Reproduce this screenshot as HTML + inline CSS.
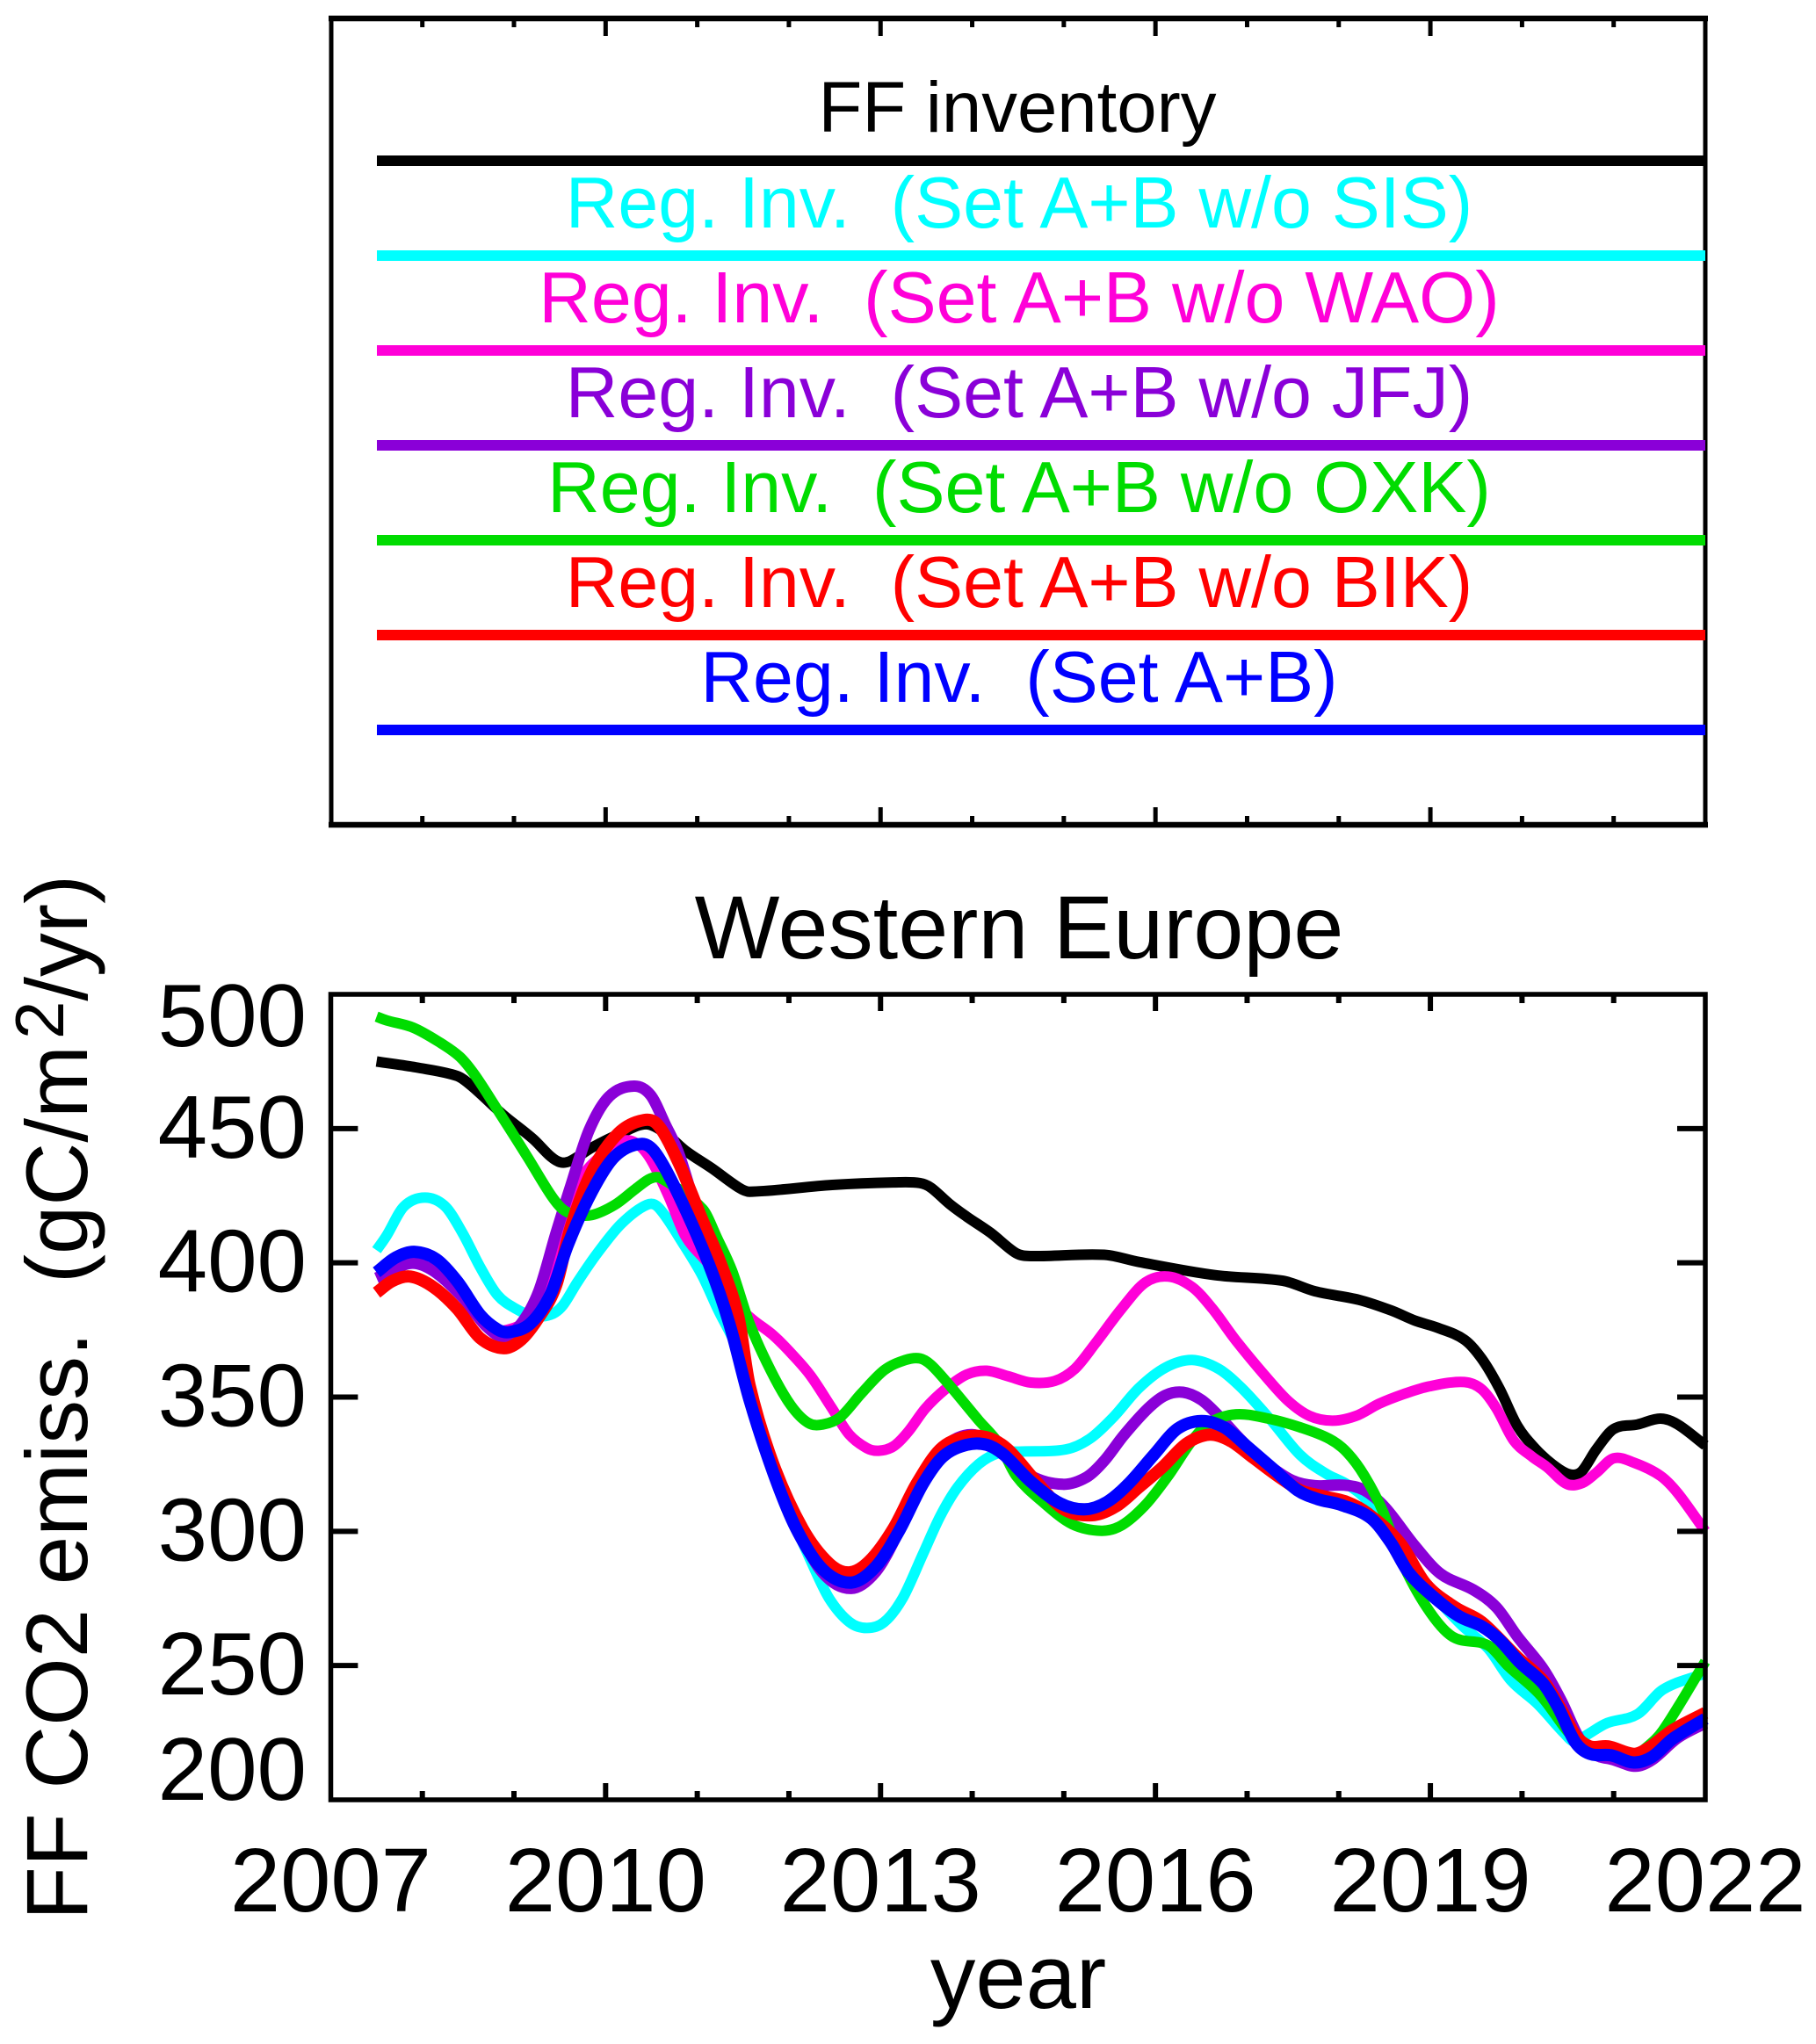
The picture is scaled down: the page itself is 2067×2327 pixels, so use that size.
<!DOCTYPE html>
<html lang="en">
<head>
<meta charset="utf-8">
<title>Western Europe FF CO2 emissions</title>
<style>
html,body{margin:0;padding:0;background:#fff;}
svg{display:block;}
text,tspan{font-family:"Liberation Sans",Arial,sans-serif;fill:#000;white-space:pre;}
</style>
</head>
<body>
<svg id="chart" xmlns="http://www.w3.org/2000/svg" width="2067" height="2327" viewBox="0 0 2067 2327">
  <g id="legend-panel">
    <rect x="377" y="21" width="1564" height="918" fill="none" stroke="#000" stroke-width="5"/>
    <line x1="374" y1="21" x2="1944" y2="21" stroke="#000" stroke-width="6.5"/>
    <line x1="374" y1="939" x2="1944" y2="939" stroke="#000" stroke-width="6.5"/>
    <g id="legend-ticks"></g>
    <g font-size="82.5" text-anchor="middle">
      <text x="1158" y="150" font-size="81.5">FF inventory</text>
      <rect x="429" y="177" width="1512" height="12" fill="#000"/>
      <text x="1160" y="259" style="fill:#00ffff">Reg. Inv.  (Set A+B w/o SIS)</text>
      <rect x="429" y="285" width="1512" height="12" fill="#00ffff"/>
      <text x="1160" y="367" style="fill:#ff00d8">Reg. Inv.  (Set A+B w/o WAO)</text>
      <rect x="429" y="393" width="1512" height="12" fill="#ff00d8"/>
      <text x="1160" y="475" style="fill:#8a00d8">Reg. Inv.  (Set A+B w/o JFJ)</text>
      <rect x="429" y="501" width="1512" height="12" fill="#8a00d8"/>
      <text x="1160" y="583" style="fill:#00dc00">Reg. Inv.  (Set A+B w/o OXK)</text>
      <rect x="429" y="609" width="1512" height="12" fill="#00dc00"/>
      <text x="1160" y="691" style="fill:#ff0000">Reg. Inv.  (Set A+B w/o BIK)</text>
      <rect x="429" y="717" width="1512" height="12" fill="#ff0000"/>
      <text x="1160" y="799" style="fill:#0000ff">Reg. Inv.  (Set A+B)</text>
      <rect x="429" y="825" width="1512" height="12" fill="#0000ff"/>
    </g>
  </g>

  <text x="1160" y="1091" font-size="102.5" text-anchor="middle">Western Europe</text>
  <g id="series"></g>
  <g id="axes"></g>
  <rect x="376.5" y="1132" width="1564.5" height="917" fill="none" stroke="#000" stroke-width="5.5"/>
  <text x="1159" y="2286" font-size="103" text-anchor="middle">year</text>
  <text transform="translate(99 2186) rotate(-90)" font-size="99.6">FF CO2 emiss.  (gC/m<tspan font-size="78" dx="7" dy="-27">2</tspan><tspan dy="27">/yr)</tspan></text>
</svg>
<script>
const xTickYears = [2007,2008,2009,2010,2011,2012,2013,2014,2015,2016,2017,2018,2019,2020,2021,2022];
const xLabelYears = [2007,2010,2013,2016,2019,2022];
const yTickValues = [500,450,400,350,300,250,200];

const inventoryYears = [2007.5,2007.93,2008.38,2008.54,2008.89,2009.21,2009.4,2009.51,2009.62,2009.85,2010.17,2010.44,2010.65,2010.87,2011.16,2011.45,2011.57,2012.47,2013.2,2013.43,2013.55,2013.75,2013.94,2014.2,2014.48,2014.64,2015.44,2015.82,2016.65,2017.39,2017.74,2018.22,2018.57,2018.83,2019.08,2019.37,2019.56,2019.75,2019.95,2020.14,2020.33,2020.52,2020.65,2020.81,2021,2021.26,2021.51,2021.7,2022];
const inventoryValues = [475,472.8,469.6,465.8,454.9,446.1,439.6,437.4,438,442.9,448.3,451.6,448.3,441.8,435.2,428.1,426.5,429,430,429.7,428,422,417.2,411.2,403.6,402.5,403,400.3,395.4,393.3,389.4,386.2,382.3,378.5,375.8,371.4,364.3,353.4,339.2,331,325,321.2,322.3,330.5,338.1,339.8,342,339.8,332];

const noSisYears = [2007.5,2007.61,2007.8,2008.03,2008.25,2008.44,2008.63,2008.82,2009.02,2009.21,2009.4,2009.53,2009.69,2009.91,2010.17,2010.45,2010.58,2010.87,2011.06,2011.22,2011.45,2011.7,2011.95,2012.24,2012.44,2012.66,2012.85,2013.04,2013.24,2013.46,2013.65,2013.84,2014.07,2014.29,2014.51,2015.02,2015.28,2015.54,2015.82,2016.11,2016.4,2016.69,2016.94,2017.26,2017.58,2017.87,2018.09,2018.32,2018.7,2019.02,2019.34,2019.63,2019.88,2020.17,2020.46,2020.58,2020.71,2020.93,2021.26,2021.54,2022];
const noSisValues = [404.7,410.1,421,424.3,421,411,398.5,388,382.9,380.2,380.7,384,392.7,403.6,414.5,421.6,420.5,405.8,394.9,383,366.5,337,312,289,275,266.2,264,266.2,275,291.3,305.5,316.4,325,329.2,329.7,330.5,334.4,342.5,353.4,361,363.8,360.5,353.4,341.4,328.4,321.3,317.5,311,292,277,265.1,256.4,244.4,235.7,224.8,221.5,224.2,228.6,231.9,241.1,247.1];

const noWaoYears = [2007.5,2007.87,2008.12,2008.44,2008.7,2008.89,2009.18,2009.46,2009.69,2009.94,2010.23,2010.45,2010.68,2010.87,2011.13,2011.35,2011.6,2011.83,2012.05,2012.24,2012.47,2012.66,2012.85,2012.98,2013.14,2013.3,2013.49,2013.71,2013.94,2014.16,2014.39,2014.64,2014.9,2015.12,2015.34,2015.63,2015.89,2016.14,2016.4,2016.62,2016.88,2017.2,2017.45,2017.68,2017.93,2018.19,2018.44,2018.7,2018.99,2019.37,2019.56,2019.72,2019.91,2020.11,2020.27,2020.49,2020.66,2020.81,2021,2021.22,2021.51,2021.7,2022];
const noWaoValues = [394.5,400,397,387.2,376.3,374.7,381,405.8,428.7,439.6,445.6,440.7,425.4,410,399.2,387,379,373,365.4,357.8,345.8,336,331,330,331.6,337,345.8,353,358.4,359.8,357.8,355.4,356,360.5,369.8,382.9,392.7,394.9,391,383,371,357.8,348.5,343,341.2,343,347.5,351,354,355.6,352.9,345.8,333.8,327.8,324,317.6,318,321.8,327.2,325.6,320.7,314.2,300];

const noJfjYears = [2007.5,2007.87,2008.12,2008.44,2008.7,2008.89,2009.08,2009.27,2009.46,2009.62,2009.82,2010.04,2010.31,2010.49,2010.65,2010.81,2011.06,2011.35,2011.6,2011.85,2012.08,2012.37,2012.68,2012.95,2013.2,2013.46,2013.68,2014,2014.3,2014.64,2014.99,2015.25,2015.44,2015.66,2015.92,2016.11,2016.3,2016.5,2016.69,2016.94,2017.2,2017.49,2017.74,2018.06,2018.28,2018.51,2018.83,2019.11,2019.47,2019.72,2019.95,2020.23,2020.43,2020.62,2020.78,2021,2021.24,2021.42,2021.7,2022];
const noJfjValues = [394.3,399.8,397,387.2,376.3,372.5,377.4,389.4,411.2,428.7,449.4,462,465.8,462.5,451.6,439.6,411,378,349,321.5,302,284.5,278.7,285,300,319,331,336,330.5,320.7,317.5,320.2,326.2,336,345.8,350.7,351.8,349,343,333.8,325.6,319,317,317.2,315.3,308.7,294.6,284.2,278.2,271.7,260.8,248.8,236.8,223.1,217.1,214.9,212.5,214.9,223.1,228.6];

const noOxkYears = [2007.5,2007.61,2007.9,2008.19,2008.41,2008.57,2008.82,2009.14,2009.4,2009.53,2009.66,2009.85,2010.1,2010.33,2010.49,2010.61,2011.06,2011.22,2011.38,2011.57,2011.8,2012.02,2012.21,2012.37,2012.56,2012.79,2013.04,2013.27,2013.43,2013.55,2013.75,2014.07,2014.29,2014.48,2014.77,2015.09,2015.41,2015.63,2015.89,2016.14,2016.4,2016.59,2016.88,2017.23,2017.58,2017.9,2018.09,2018.28,2018.48,2018.67,2018.96,2019.24,2019.63,2019.85,2020.2,2020.58,2020.97,2021.2,2021.35,2021.54,2022];
const noOxkValues = [491.7,490.3,487.6,482.1,476.7,470.1,457,439.8,425.4,420,418,417.8,421.6,427.6,431.4,431.4,420,409,397,377.4,360,347,340.4,339.8,342.5,351.3,360,363.8,364.4,362,354.5,341.4,332.7,320.7,310.9,302.7,300.2,302.2,309.8,320.7,333.8,340.4,343.6,342,338.7,334.4,329.4,320.7,307.6,290,271.7,260.8,257.5,249.8,239,222.6,217,216,219.3,225.9,251.5];

const noBikYears = [2007.5,2007.67,2007.87,2008.12,2008.38,2008.63,2008.89,2009.08,2009.27,2009.46,2009.62,2009.85,2010.14,2010.42,2010.58,2010.81,2011.06,2011.25,2011.45,2011.57,2011.83,2012.15,2012.44,2012.66,2012.88,2013.14,2013.39,2013.65,2013.91,2014.16,2014.39,2014.7,2015,2015.31,2015.57,2015.82,2016.08,2016.34,2016.59,2016.81,2017.07,2017.33,2017.58,2017.84,2018.09,2018.32,2018.67,2018.95,2019.27,2019.56,2019.95,2020.23,2020.43,2020.58,2020.74,2020.94,2021.22,2021.38,2021.64,2022];
const noBikValues = [388.9,393.2,394.9,391,382.9,372,368.2,371.4,379.6,391.6,413.4,434.1,448.3,453.2,451,436.3,415.6,400.3,379.6,354.5,325,301,288,284.7,289,301,317.5,330.5,335,335,330.5,318.5,308.2,306,309.3,316.4,324,332.7,336,333.8,327.3,320.7,315.3,313,310.9,306.6,295.6,280.4,271.7,266.2,253.1,244.4,233.5,224.2,219.9,219.9,217.1,219.3,225.9,232.4];

const setAbYears = [2007.5,2007.71,2007.91,2008.15,2008.38,2008.63,2008.82,2008.95,2009.18,2009.4,2009.59,2009.85,2010.1,2010.39,2010.55,2010.81,2011.13,2011.35,2011.57,2011.83,2012.08,2012.37,2012.68,2012.95,2013.2,2013.46,2013.68,2013.94,2014.16,2014.35,2014.64,2014.96,2015.23,2015.47,2015.7,2015.98,2016.24,2016.5,2016.75,2017,2017.26,2017.55,2017.77,2018.03,2018.35,2018.57,2018.76,2019.02,2019.31,2019.56,2019.75,2019.98,2020.23,2020.39,2020.58,2020.74,2020.97,2021.22,2021.42,2021.64,2022];
const setAbValues = [396.5,402,404.1,401.4,393.2,380.7,375.2,374.2,377.4,388.3,406.9,426.5,439.6,444.3,440.7,424.3,399.2,377.4,349,321.8,301,285.8,280.9,286.9,300,317.5,327.8,332.2,332.2,328.4,318.5,310.4,308.2,310.9,317.5,328.4,338.2,341.1,338.7,331.6,324,315.3,312,309.8,304.9,295.7,284.8,276,268.4,264.6,259.7,251,243.3,234.6,221.5,217.1,216.6,213.9,216,222.6,230.2];

const SVGNS = 'http://www.w3.org/2000/svg';
const plotLeft = 376.4, plotRight = 1941, plotTop = 1132, plotBottom = 2049;
const legendTop = 21, legendBottom = 939;
function xScale(year) { return plotLeft + (year - 2007) / 15 * (plotRight - plotLeft); }
function yScale(value) { return plotTop + (500 - value) / 300 * (plotBottom - plotTop); }

function smoothPath(xs, ys) {
  const pts = xs.map((x, i) => [xScale(x), yScale(ys[i])]);
  let d = 'M' + pts[0][0].toFixed(1) + ' ' + pts[0][1].toFixed(1);
  for (let i = 0; i < pts.length - 1; i++) {
    const p0 = pts[Math.max(i - 1, 0)], p1 = pts[i], p2 = pts[i + 1], p3 = pts[Math.min(i + 2, pts.length - 1)];
    const h = p2[0] - p1[0];
    const m1 = (p2[1] - p0[1]) / Math.max(p2[0] - p0[0], 1);
    const m2 = (p3[1] - p1[1]) / Math.max(p3[0] - p1[0], 1);
    d += 'C' + (p1[0] + h / 3).toFixed(1) + ' ' + (p1[1] + m1 * h / 3).toFixed(1) + ' ' +
         (p2[0] - h / 3).toFixed(1) + ' ' + (p2[1] - m2 * h / 3).toFixed(1) + ' ' +
         p2[0].toFixed(1) + ' ' + p2[1].toFixed(1);
  }
  return d;
}

function drawSeries(name, xs, ys, color, width) {
  const path = document.createElementNS(SVGNS, 'path');
  
  
  path.setAttribute('d', smoothPath(xs, ys));
  path.setAttribute('fill', 'none');
  path.setAttribute('stroke', color);
  path.setAttribute('stroke-width', width);
  path.setAttribute('stroke-linejoin', 'round');
  document.getElementById('series').appendChild(path);
}

drawSeries('series-ff-inventory', inventoryYears, inventoryValues, '#000000', 12);
drawSeries('series-no-sis', noSisYears, noSisValues, '#00ffff', 12);
drawSeries('series-no-wao', noWaoYears, noWaoValues, '#ff00d8', 12);
drawSeries('series-no-jfj', noJfjYears, noJfjValues, '#8a00d8', 13);
drawSeries('series-no-oxk', noOxkYears, noOxkValues, '#00dc00', 12);
drawSeries('series-no-bik', noBikYears, noBikValues, '#ff0000', 14);
drawSeries('series-set-ab', setAbYears, setAbValues, '#0000ff', 14);

function tick(parent, name, x1, y1, x2, y2, w) {
  const line = document.createElementNS(SVGNS, 'line');
  
  
  line.setAttribute('x1', x1);
  line.setAttribute('y1', y1);
  line.setAttribute('x2', x2);
  line.setAttribute('y2', y2);
  line.setAttribute('stroke', '#000');
  line.setAttribute('stroke-width', w);
  parent.appendChild(line);
}

function label(parent, name, x, y, str, anchor, size) {
  const t = document.createElementNS(SVGNS, 'text');
  
  
  t.setAttribute('x', x);
  t.setAttribute('y', y);
  t.setAttribute('font-size', size);
  t.setAttribute('text-anchor', anchor);
  t.textContent = str;
  parent.appendChild(t);
}

const axesGroup = document.getElementById('axes');
const legendTicks = document.getElementById('legend-ticks');
xTickYears.forEach(year => {
  if (year === 2007 || year === 2022) return;
  const major = xLabelYears.includes(year);
  const x = xScale(year);
  const lenPlot = major ? 19 : 10;
  const lenLegend = major ? 20 : 10;
  tick(axesGroup, 'x-tick-top-' + year, x, plotTop, x, plotTop + lenPlot, 6);
  tick(axesGroup, 'x-tick-bottom-' + year, x, plotBottom, x, plotBottom - lenPlot, 6);
  tick(legendTicks, 'legend-tick-top-' + year, x, legendTop, x, legendTop + lenLegend, 5);
  tick(legendTicks, 'legend-tick-bottom-' + year, x, legendBottom, x, legendBottom - lenLegend, 5);
});
xLabelYears.forEach(year => {
  label(axesGroup, 'x-tick-label-' + year, xScale(year), 2176, String(year), 'middle', '103');
});
yTickValues.forEach(value => {
  const y = yScale(value);
  if (value !== 500 && value !== 200) {
    tick(axesGroup, 'y-tick-left-' + value, plotLeft, y, plotLeft + 31, y, 6);
    tick(axesGroup, 'y-tick-right-' + value, plotRight, y, plotRight - 32, y, 6);
  }
  const baseline = Math.min(Math.max(y + 33, plotTop + 59), plotBottom);
  label(axesGroup, 'y-tick-label-' + value, 349, baseline, String(value), 'end', '101.5');
});
</script>
</body>
</html>
